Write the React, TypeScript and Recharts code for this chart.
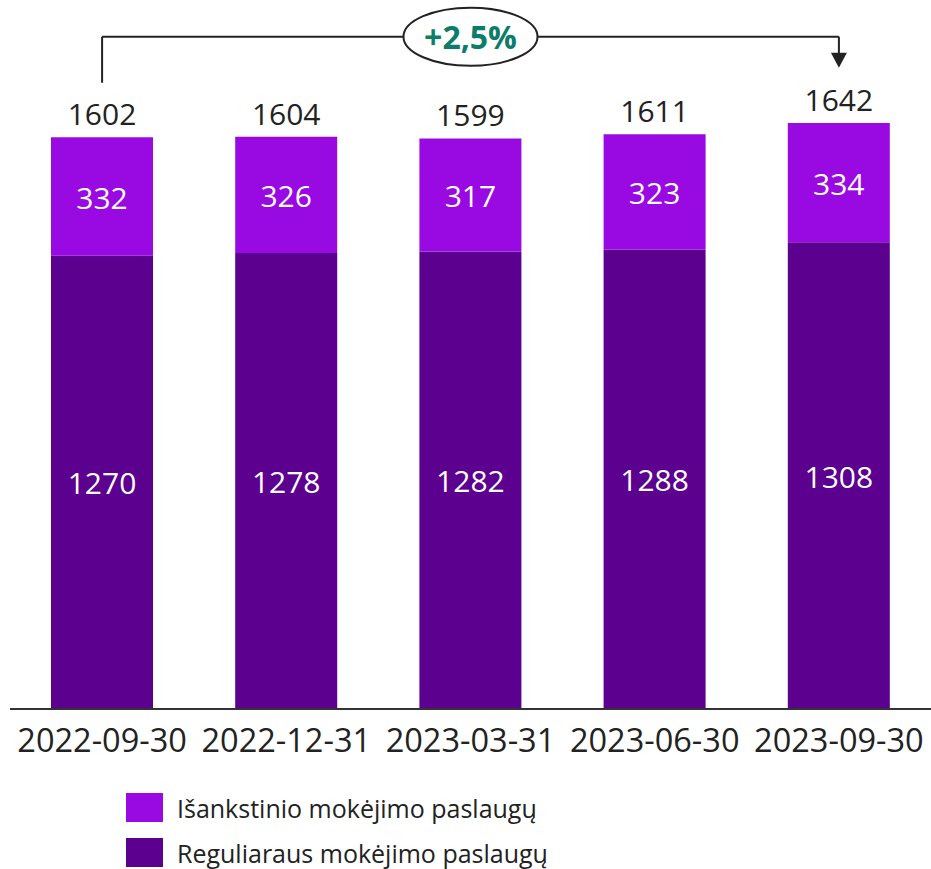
import React from "react";
import {
  BarChart,
  Bar,
  XAxis,
  YAxis,
  LabelList,
  ReferenceLine,
  ReferenceDot,
} from "recharts";

const categories = ["2022-09-30", "2022-12-31", "2023-03-31", "2023-06-30", "2023-09-30"];
const regular = [1270, 1278, 1282, 1288, 1308];
const prepaid = [332, 326, 317, 323, 334];
const totals = [1602, 1604, 1599, 1611, 1642];
const seriesNames = ["Išankstinio mokėjimo paslaugų", "Reguliaraus mokėjimo paslaugų"];
const changeLabel = "+2,5%";

const COLOR_PREPAID = "#990AE3";
const COLOR_REGULAR = "#5C008F";
const FONT = "'Open Sans', sans-serif";

const data = categories.map((c, i) => ({
  name: c,
  regular: regular[i],
  prepaid: prepaid[i],
  total: totals[i],
}));

// annotation levels (data units)
const bracketY = 1884;
const leftStartY = 1755;
const arrowTipY = 1797;

const InsideLabel = (props: any) => {
  const { x, y, width, height, value } = props;
  return (
    <text
      x={x + width / 2}
      y={y + height / 2 + 12}
      textAnchor="middle"
      fill="#fff"
      fontSize={30}
      fontFamily={FONT}
    >
      {value}
    </text>
  );
};

const TotalLabel = (props: any) => {
  const { x, y, width, index } = props;
  return (
    <text
      x={x + width / 2}
      y={y - 12}
      textAnchor="middle"
      fill="#222"
      fontSize={30}
      fontFamily={FONT}
    >
      {totals[index]}
    </text>
  );
};

const CatTick = (props: any) => {
  const { x, y, payload } = props;
  return (
    <text x={x} y={y + 43} textAnchor="middle" fill="#222" fontSize={32.5} fontFamily={FONT}>
      {payload.value}
    </text>
  );
};

const ArrowShape = (props: any) => {
  const { x1, y1, x2, y2 } = props;
  return (
    <g>
      <line x1={x1} y1={y1} x2={x2} y2={y2 - 14} stroke="#222" strokeWidth={2} />
      <polygon points={`${x2 - 8},${y2 - 15} ${x2 + 8},${y2 - 15} ${x2},${y2}`} fill="#222" />
    </g>
  );
};

const PlainLine = (props: any) => {
  const { x1, y1, x2, y2 } = props;
  return <line x1={x1} y1={y1} x2={x2} y2={y2} stroke="#222" strokeWidth={2} />;
};

const OvalShape = (props: any) => {
  const { cx, cy } = props;
  return (
    <g>
      <ellipse cx={cx} cy={cy} rx={67} ry={29} fill="#fff" stroke="#222" strokeWidth={2} />
      <text
        x={cx}
        y={cy + 12}
        textAnchor="middle"
        fill="#0E7C6B"
        fontSize={32}
        fontWeight={700}
        fontFamily={FONT}
      >
        {changeLabel}
      </text>
    </g>
  );
};

export default function App() {
  return (
    <div style={{ position: "absolute", left: 0, top: 0, width: 931, height: 869, background: "#fff" }}>
      <BarChart
        width={931}
        height={780}
        data={data}
        margin={{ top: 31, right: 0, left: 10, bottom: 0 }}
        barCategoryGap={0}
      >
        <XAxis
          dataKey="name"
          height={71}
          tickLine={false}
          tickSize={0}
          tickMargin={0}
          axisLine={{ stroke: "#333", strokeWidth: 2 }}
          tick={<CatTick />}
          interval={0}
        />
        <YAxis hide domain={[0, 1900]} />
        <Bar dataKey="regular" stackId="a" fill={COLOR_REGULAR} barSize={102} isAnimationActive={false}>
          <LabelList dataKey="regular" content={<InsideLabel />} />
        </Bar>
        <Bar dataKey="prepaid" stackId="a" fill={COLOR_PREPAID} barSize={102} isAnimationActive={false}>
          <LabelList dataKey="prepaid" content={<InsideLabel />} />
          <LabelList dataKey="total" content={<TotalLabel />} />
        </Bar>
        <ReferenceLine
          ifOverflow="visible"
          segment={[
            { x: categories[0], y: leftStartY },
            { x: categories[0], y: bracketY },
          ]}
          shape={<PlainLine />}
        />
        <ReferenceLine
          ifOverflow="visible"
          segment={[
            { x: categories[0], y: bracketY },
            { x: categories[4], y: bracketY },
          ]}
          shape={<PlainLine />}
        />
        <ReferenceLine
          ifOverflow="visible"
          segment={[
            { x: categories[4], y: bracketY },
            { x: categories[4], y: arrowTipY },
          ]}
          shape={<ArrowShape />}
        />
        <ReferenceDot
          ifOverflow="visible"
          x={categories[2]}
          y={bracketY}
          shape={<OvalShape />}
        />
      </BarChart>
      <div style={{ position: "absolute", left: 126, top: 793, fontFamily: FONT, fontSize: 25, color: "#222" }}>
        {[COLOR_PREPAID, COLOR_REGULAR].map((c, i) => (
          <div key={i} style={{ display: "flex", alignItems: "center", height: 29, marginBottom: i === 0 ? 16 : 0 }}>
            <div style={{ width: 37, height: 29, background: c, marginRight: 14 }} />
            <span>{seriesNames[i]}</span>
          </div>
        ))}
      </div>
    </div>
  );
}
